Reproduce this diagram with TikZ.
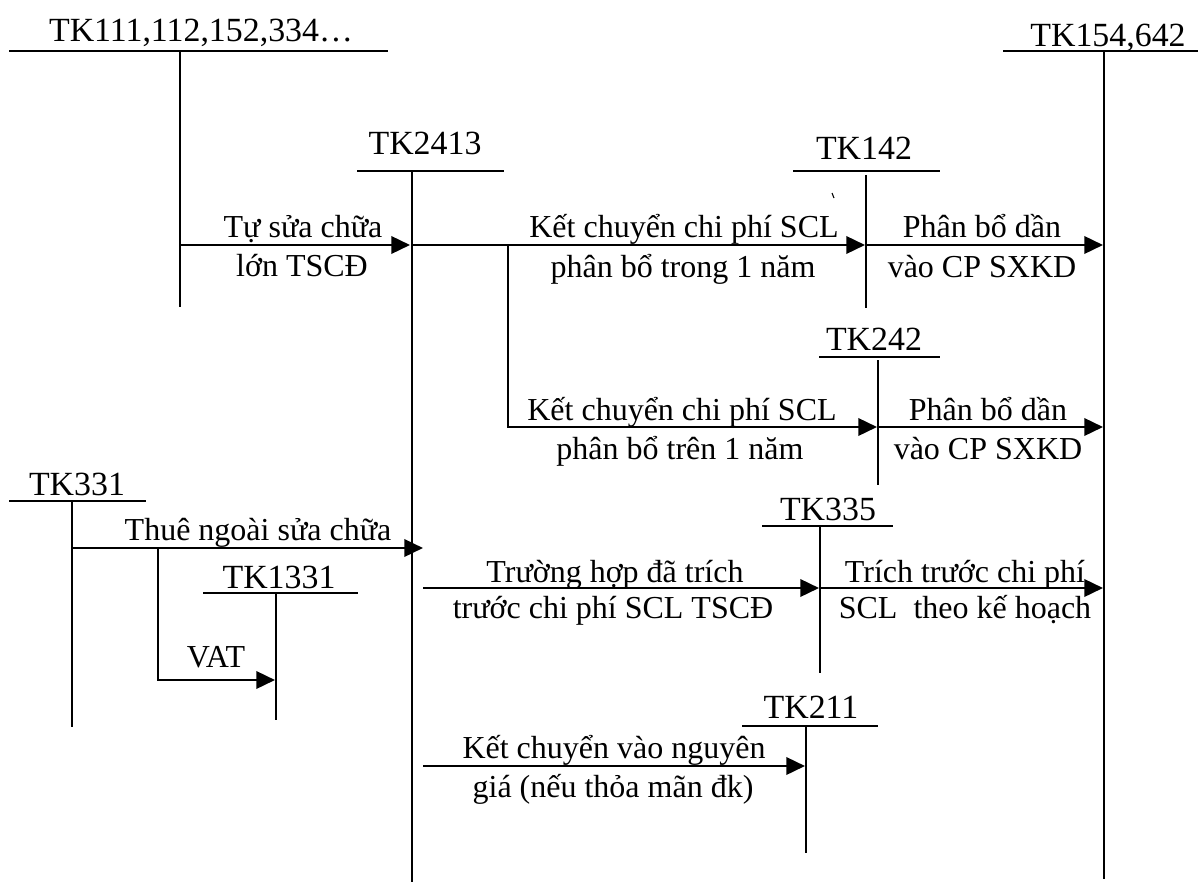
\documentclass[tikz,border=0pt]{standalone}
\usepackage{fontspec}
\setmainfont{Liberation Serif}
\usetikzlibrary{arrows.meta}
\tikzset{
  acc/.style={line width=1.9pt},
  flow/.style={line width=1.9pt,-{Triangle[length=14pt,width=13pt]}},
  lbl/.style={anchor=base,inner sep=0pt,font=\fontsize{24}{28}\selectfont},
  ttl/.style={anchor=base,inner sep=0pt,font=\fontsize{25.4}{30}\selectfont},
}
\begin{document}
\begin{tikzpicture}[x=0.75pt,y=-0.75pt]
\useasboundingbox[fill=white] (0,0) rectangle (1198,884);

% ---- T-accounts ----
% TK111...
\node[ttl] (n111) at (201,42) {TK111,112,152,334…};
\coordinate (a111L) at (9,51); \coordinate (a111R) at (388,51);
\coordinate (a111T) at (180,51); \coordinate (a111B) at (180,307);
\draw[acc] (a111L) -- (a111R); \draw[acc] (a111T) -- (a111B);

% TK2413
\node[ttl] (n2413) at (425,155) {TK2413};
\coordinate (a2413L) at (357,171); \coordinate (a2413R) at (504,171);
\coordinate (a2413T) at (412,171); \coordinate (a2413B) at (412,882);
\draw[acc] (a2413L) -- (a2413R); \draw[acc] (a2413T) -- (a2413B);

% TK142
\node[ttl] (n142) at (864,160) {TK142};
\coordinate (a142L) at (793,171); \coordinate (a142R) at (940,171);
\coordinate (a142T) at (866,175); \coordinate (a142B) at (866,308);
\draw[acc] (a142L) -- (a142R); \draw[acc] (a142T) -- (a142B);
\draw[line width=0.8pt] (832,193) -- (834,198);

% TK154,642
\node[ttl] (n154) at (1108,47) {TK154,642};
\coordinate (a154L) at (1003,51); \coordinate (a154R) at (1198,51);
\coordinate (a154T) at (1104,51); \coordinate (a154B) at (1104,879);
\draw[acc] (a154L) -- (a154R); \draw[acc] (a154T) -- (a154B);

% TK242
\node[ttl] (n242) at (874,350) {TK242};
\coordinate (a242L) at (819,357); \coordinate (a242R) at (940,357);
\coordinate (a242T) at (878,360); \coordinate (a242B) at (878,485);
\draw[acc] (a242L) -- (a242R); \draw[acc] (a242T) -- (a242B);

% TK331
\node[ttl] (n331) at (77,495) {TK331};
\coordinate (a331L) at (9,501); \coordinate (a331R) at (146,501);
\coordinate (a331T) at (72,501); \coordinate (a331B) at (72,727);
\draw[acc] (a331L) -- (a331R); \draw[acc] (a331T) -- (a331B);

% TK1331
\node[ttl] (n1331) at (279,588) {TK1331};
\coordinate (a1331L) at (203,593); \coordinate (a1331R) at (358,593);
\coordinate (a1331T) at (276,593); \coordinate (a1331B) at (276,720);
\draw[acc] (a1331L) -- (a1331R); \draw[acc] (a1331T) -- (a1331B);

% TK335
\node[ttl] (n335) at (828,520) {TK335};
\coordinate (a335L) at (762,526); \coordinate (a335R) at (893,526);
\coordinate (a335T) at (820,526); \coordinate (a335B) at (820,673);
\draw[acc] (a335L) -- (a335R); \draw[acc] (a335T) -- (a335B);

% TK211
\node[ttl] (n211) at (811,718) {TK211};
\coordinate (a211L) at (742,726); \coordinate (a211R) at (878,726);
\coordinate (a211T) at (806,726); \coordinate (a211B) at (806,853);
\draw[acc] (a211L) -- (a211R); \draw[acc] (a211T) -- (a211B);

% ---- Flows ----
% Tu sua chua
\coordinate (f1s) at (180,245); \coordinate (f1e) at (410,245);
\draw[flow] (f1s) -- (f1e);
\node[lbl] (t1a) at (303,238) {Tự sửa chữa};
\node[lbl] (t1b) at (302,276) {lớn TSCĐ};

% Ket chuyen -> TK142
\coordinate (f2s) at (412,245); \coordinate (f2e) at (865,245);
\draw[flow] (f2s) -- (f2e);
\node[lbl] (t2a) at (684,238) {Kết chuyển chi phí SCL};
\node[lbl] (t2b) at (683,277) {phân bổ trong 1 năm};

% Ket chuyen -> TK242
\coordinate (f3b) at (508,245); \coordinate (f3c) at (508,427); \coordinate (f3e) at (877,427);
\draw[flow] (f3b) -- (f3c) -- (f3e);
\node[lbl] (t3a) at (682,420) {Kết chuyển chi phí SCL};
\node[lbl] (t3b) at (680,459) {phân bổ trên 1 năm};

% TK142 -> TK154
\coordinate (f4s) at (866,245); \coordinate (f4e) at (1103,245);
\draw[flow] (f4s) -- (f4e);
\node[lbl] (t4a) at (982,238) {Phân bổ dần};
\node[lbl] (t4b) at (982,277) {vào CP SXKD};

% TK242 -> TK154
\coordinate (f5s) at (878,427); \coordinate (f5e) at (1103,427);
\draw[flow] (f5s) -- (f5e);
\node[lbl] (t5a) at (988,420) {Phân bổ dần};
\node[lbl] (t5b) at (988,459) {vào CP SXKD};

% TK331 -> TK2413
\coordinate (f6s) at (72,548); \coordinate (f6e) at (423,548);
\draw[flow] (f6s) -- (f6e);
\node[lbl] (t6a) at (258,540) {Thuê ngoài sửa chữa};

% VAT
\coordinate (f7b) at (158,548); \coordinate (f7c) at (158,680); \coordinate (f7e) at (275,680);
\draw[flow] (f7b) -- (f7c) -- (f7e);
\node[lbl] (t7a) at (216,667) {VAT};

% TK2413 -> TK335
\coordinate (f8s) at (423,588); \coordinate (f8e) at (819,588);
\draw[flow] (f8s) -- (f8e);
\node[lbl] (t8a) at (615,582) {Trường hợp đã trích};
\node[lbl] (t8b) at (613,618) {trước chi phí SCL TSCĐ};

% TK335 -> TK154
\coordinate (f9s) at (820,588); \coordinate (f9e) at (1103,588);
\draw[flow] (f9s) -- (f9e);
\node[lbl] (t9a) at (965,582) {Trích trước chi phí};
\node[lbl] (t9b) at (965,618) {SCL\ \ theo kế hoạch};

% TK2413 -> TK211
\coordinate (f10s) at (423,766); \coordinate (f10e) at (805,766);
\draw[flow] (f10s) -- (f10e);
\node[lbl] (t10a) at (614,758) {Kết chuyển vào nguyên};
\node[lbl] (t10b) at (613,797) {giá (nếu thỏa mãn đk)};
\end{tikzpicture}
\end{document}
